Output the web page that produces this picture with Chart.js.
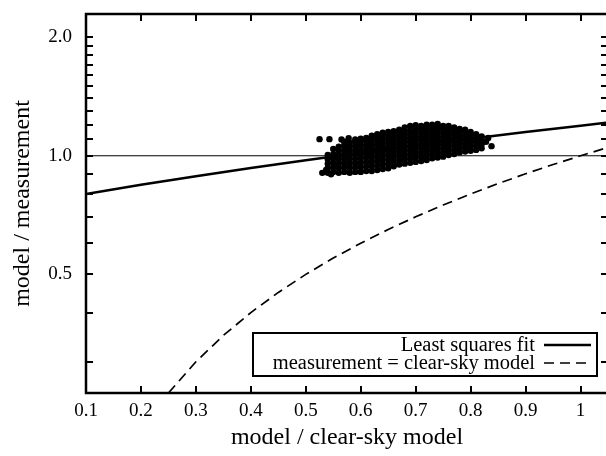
<!DOCTYPE html>
<html>
<head>
<meta charset="utf-8">
<script src="https://cdn.jsdelivr.net/npm/chart.js@4.4.1/dist/chart.umd.min.js"></script>
<style>
  html, body { margin: 0; padding: 0; background: #fff; overflow: hidden; }
  canvas { display: block; }
</style>
</head>
<body>
<canvas id="chart" width="612" height="456"></canvas>
<script>
// axis ticks
var xTickValues = [0.1, 0.2, 0.3, 0.4, 0.5, 0.6, 0.7, 0.8, 0.9, 1.0];
var yLabelValues = [0.5, 1.0, 2.0];
var yMinorValues = [0.3, 0.4, 0.6, 0.7, 0.8, 0.9, 1.1, 1.2, 1.3, 1.4, 1.5, 1.6, 1.7, 1.8, 1.9];

// least squares fit line
var fitX = [0.1, 0.2, 0.3, 0.4, 0.5, 0.6, 0.7, 0.8, 0.9, 1.0, 1.05];
var fitY = [0.80, 0.844, 0.887, 0.931, 0.974, 1.018, 1.062, 1.105, 1.149, 1.192, 1.214];

// measurement = clear-sky model
var clearX = [0.25, 0.3, 0.35, 0.4, 0.45, 0.5, 0.55, 0.6, 0.65, 0.7, 0.75, 0.8, 0.85, 0.9, 0.95, 1.0, 1.05];
var clearY = [0.25, 0.3, 0.35, 0.4, 0.45, 0.5, 0.55, 0.6, 0.65, 0.7, 0.75, 0.8, 0.85, 0.9, 0.95, 1.0, 1.05];

// unity line
var unityX = [0.1, 1.05];
var unityY = [1.0, 1.0];

// scatter cluster, one column of y values per x
var clusterX = [0.54, 0.55, 0.56, 0.57, 0.58, 0.59, 0.60, 0.61, 0.62, 0.63, 0.64, 0.65, 0.66, 0.67,
                0.68, 0.69, 0.70, 0.71, 0.72, 0.73, 0.74, 0.75, 0.76, 0.77, 0.78, 0.79, 0.80, 0.81, 0.82];
var clusterY = [
  [0.905, 0.93, 0.955, 0.98, 1.005],
  [0.91, 0.935, 0.96, 0.985, 1.01, 1.04],
  [0.905, 0.93, 0.955, 0.98, 1.005, 1.03, 1.055],
  [0.91, 0.935, 0.96, 0.985, 1.01, 1.035, 1.06, 1.085],
  [0.905, 0.93, 0.955, 0.98, 1.005, 1.03, 1.055, 1.08],
  [0.91, 0.935, 0.96, 0.985, 1.01, 1.035, 1.06, 1.085, 1.10],
  [0.91, 0.935, 0.96, 0.985, 1.01, 1.035, 1.06, 1.085, 1.105],
  [0.915, 0.94, 0.965, 0.99, 1.015, 1.04, 1.065, 1.09, 1.11],
  [0.915, 0.94, 0.965, 0.99, 1.015, 1.04, 1.065, 1.09, 1.115, 1.125],
  [0.92, 0.945, 0.97, 0.995, 1.02, 1.045, 1.07, 1.095, 1.12, 1.135],
  [0.925, 0.95, 0.975, 1.0, 1.025, 1.05, 1.075, 1.10, 1.125, 1.145],
  [0.93, 0.955, 0.98, 1.005, 1.03, 1.055, 1.08, 1.105, 1.13, 1.15],
  [0.94, 0.965, 0.99, 1.015, 1.04, 1.065, 1.09, 1.115, 1.14, 1.155],
  [0.95, 0.975, 1.0, 1.025, 1.05, 1.075, 1.10, 1.125, 1.15, 1.165],
  [0.955, 0.98, 1.005, 1.03, 1.055, 1.08, 1.105, 1.13, 1.155, 1.18],
  [0.96, 0.985, 1.01, 1.035, 1.06, 1.085, 1.11, 1.135, 1.16, 1.19],
  [0.965, 0.99, 1.015, 1.04, 1.065, 1.09, 1.115, 1.14, 1.165, 1.195],
  [0.97, 0.995, 1.02, 1.045, 1.07, 1.095, 1.12, 1.145, 1.17, 1.19],
  [0.975, 1.0, 1.025, 1.05, 1.075, 1.10, 1.125, 1.15, 1.175, 1.20],
  [0.985, 1.01, 1.035, 1.06, 1.085, 1.11, 1.135, 1.16, 1.185, 1.20],
  [0.99, 1.015, 1.04, 1.065, 1.09, 1.115, 1.14, 1.165, 1.19, 1.205],
  [0.995, 1.02, 1.045, 1.07, 1.095, 1.12, 1.145, 1.17, 1.19],
  [1.005, 1.03, 1.055, 1.08, 1.105, 1.13, 1.155, 1.18, 1.19],
  [1.01, 1.035, 1.06, 1.085, 1.11, 1.135, 1.16, 1.18],
  [1.02, 1.045, 1.07, 1.095, 1.12, 1.145, 1.17],
  [1.025, 1.05, 1.075, 1.10, 1.125, 1.15, 1.165],
  [1.03, 1.055, 1.08, 1.105, 1.13, 1.15],
  [1.035, 1.06, 1.085, 1.11, 1.135],
  [1.045, 1.07, 1.095, 1.12]
];
// stray points around the cluster
var strayX = [0.525, 0.543, 0.565, 0.578, 0.530, 0.537, 0.546, 0.828, 0.838, 0.832];
var strayY = [1.102, 1.102, 1.100, 1.108, 0.905, 0.92, 0.898, 1.085, 1.058, 1.11];

function pairs(xs, ys) {
    return xs.map(function (x, i) { return { x: x, y: ys[i] }; });
}

var clusterPoints = [];
for (var i = 0; i < clusterX.length; i++) {
    for (var j = 0; j < clusterY[i].length; j++) {
        clusterPoints.push({ x: clusterX[i], y: clusterY[i][j] });
    }
}
clusterPoints = clusterPoints.concat(pairs(strayX, strayY));

var serif = 'Liberation Serif';

// frame with inward ticks on all four sides
var frameTicks = {
    id: 'frameTicks',
    afterDraw: function (chart) {
        var ctx = chart.ctx, a = chart.chartArea, x = chart.scales.x, y = chart.scales.y;
        ctx.save();
        ctx.strokeStyle = '#000';
        ctx.lineWidth = 2;
        ctx.beginPath();
        xTickValues.forEach(function (v) {
            var px = Math.round(x.getPixelForValue(v));
            ctx.moveTo(px, a.bottom); ctx.lineTo(px, a.bottom - 7);
            ctx.moveTo(px, a.top); ctx.lineTo(px, a.top + 7);
        });
        yLabelValues.concat(yMinorValues).forEach(function (v) {
            var py = Math.round(y.getPixelForValue(v));
            ctx.moveTo(a.left, py); ctx.lineTo(a.left + 7, py);
            ctx.moveTo(a.right, py); ctx.lineTo(a.right - 7, py);
        });
        ctx.stroke();
        ctx.lineWidth = 2.5;
        ctx.strokeRect(a.left, a.top, a.right - a.left, a.bottom - a.top);
        ctx.restore();
    }
};

// legend box in the lower right, text first then line sample
var boxLegend = {
    id: 'boxLegend',
    afterDraw: function (chart) {
        var ctx = chart.ctx;
        var items = chart.data.datasets.filter(function (d) { return d.inLegend; });
        ctx.save();
        ctx.fillStyle = '#fff';
        ctx.fillRect(253, 333, 344, 43);
        ctx.strokeStyle = '#000';
        ctx.lineWidth = 2;
        ctx.strokeRect(253, 333, 344, 43);
        ctx.font = '20.5px "' + serif + '"';
        ctx.textAlign = 'right';
        ctx.textBaseline = 'middle';
        items.forEach(function (d, k) {
            var ty = 345 + k * 18;
            ctx.fillStyle = '#000';
            ctx.fillText(d.label, 535, ty + 1);
            ctx.lineWidth = d.borderWidth;
            ctx.setLineDash(d.borderDash || []);
            ctx.beginPath();
            ctx.moveTo(544, ty); ctx.lineTo(591, ty);
            ctx.stroke();
        });
        ctx.restore();
    }
};

var ctx = document.getElementById('chart').getContext('2d');
var chart = new Chart(ctx, {
    type: 'scatter',
    data: {
        datasets: [
            {
                label: 'data',
                data: clusterPoints,
                pointRadius: 3.2,
                pointBackgroundColor: '#000',
                pointBorderWidth: 0,
                showLine: false
            },
            {
                label: 'unity',
                data: pairs(unityX, unityY),
                showLine: true,
                borderColor: '#000',
                borderWidth: 1,
                pointRadius: 0
            },
            {
                label: 'Least squares fit',
                inLegend: true,
                data: pairs(fitX, fitY),
                showLine: true,
                borderColor: '#000',
                borderWidth: 2.5,
                pointRadius: 0
            },
            {
                label: 'measurement = clear-sky model',
                inLegend: true,
                data: pairs(clearX, clearY),
                showLine: true,
                borderColor: '#000',
                borderWidth: 1.7,
                borderDash: [10, 6],
                pointRadius: 0
            }
        ]
    },
    options: {
        responsive: false,
        animation: false,
        layout: { padding: { top: 14, right: 3.5, left: 0, bottom: 0 } },
        plugins: {
            legend: { display: false },
            tooltip: { enabled: false }
        },
        scales: {
            x: {
                type: 'linear',
                min: 0.1,
                max: 1.05,
                grid: { display: false, drawTicks: false },
                border: { display: false },
                afterBuildTicks: function (s) {
                    s.ticks = xTickValues.map(function (v) { return { value: v }; });
                },
                afterFit: function (s) {
                    s.height = 63;
                    s.paddingLeft = 0;
                    s.paddingRight = 0;
                },
                ticks: {
                    autoSkip: false,
                    maxRotation: 0,
                    padding: 7,
                    color: '#000',
                    font: { family: serif, size: 19 },
                    callback: function (v) { return v === 1 ? '1' : v.toFixed(1); }
                },
                title: {
                    display: true,
                    text: 'model / clear-sky model',
                    color: '#000',
                    font: { family: serif, size: 24 },
                    padding: { top: 0, bottom: 4 }
                }
            },
            y: {
                type: 'logarithmic',
                min: 0.25,
                max: 2.29,
                grid: { display: false, drawTicks: false },
                border: { display: false },
                afterBuildTicks: function (s) {
                    s.ticks = yLabelValues.map(function (v) { return { value: v }; });
                },
                afterFit: function (s) {
                    s.width = 86;
                    s.paddingTop = 0;
                    s.paddingBottom = 0;
                },
                ticks: {
                    padding: 14,
                    color: '#000',
                    font: { family: serif, size: 19 },
                    callback: function (v) { return Number(v).toFixed(1); }
                },
                title: {
                    display: true,
                    text: 'model / measurement',
                    color: '#000',
                    font: { family: serif, size: 24 },
                    padding: { top: 8, bottom: 0 }
                }
            }
        }
    },
    plugins: [frameTicks, boxLegend]
});
</script>
</body>
</html>
